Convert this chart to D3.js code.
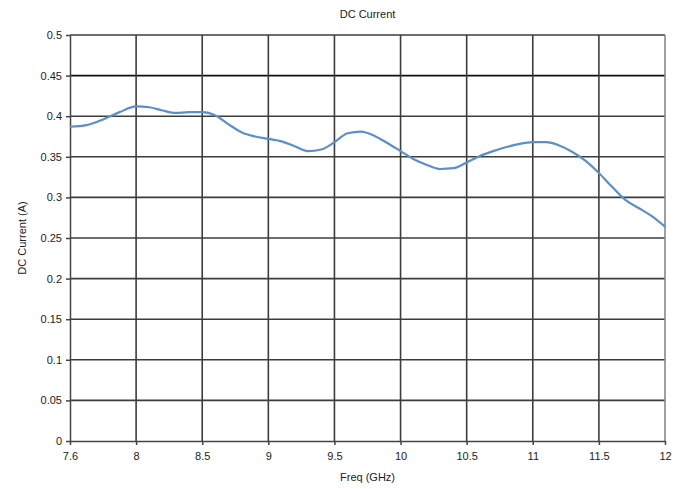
<!DOCTYPE html>
<html>
<head>
<meta charset="utf-8">
<script src="https://cdn.jsdelivr.net/npm/d3@7"></script>
<style>
  body { margin: 0; background: #fff; }
  text { font-family: "Liberation Sans", Arial, sans-serif; fill: #222; }
</style>
</head>
<body>
<div id="chart"></div>
<script>
// x tick labels (Excel style category axis, evenly spaced)
var xTicks = [7.6, 8, 8.5, 9, 9.5, 10, 10.5, 11, 11.5, 12];
var yTicks = [0, 0.05, 0.1, 0.15, 0.2, 0.25, 0.3, 0.35, 0.4, 0.45, 0.5];

var freq = [7.6, 7.7, 7.8, 7.9, 8.0, 8.1, 8.2, 8.3, 8.4, 8.5,
            8.6, 8.7, 8.8, 8.9, 9.0, 9.1, 9.2, 9.3, 9.4, 9.5,
            9.6, 9.7, 9.8, 9.9, 10.0, 10.1, 10.2, 10.3, 10.4, 10.5,
            10.6, 10.7, 10.8, 10.9, 11.0, 11.1, 11.2, 11.3, 11.4, 11.5,
            11.6, 11.7, 11.8, 11.9, 12.0];
var current = [0.387, 0.389, 0.396, 0.405, 0.412, 0.411, 0.407, 0.404, 0.405, 0.405,
               0.401, 0.390, 0.380, 0.375, 0.372, 0.369, 0.363, 0.357, 0.359, 0.368,
               0.379, 0.381, 0.376, 0.367, 0.357, 0.347, 0.340, 0.335, 0.336, 0.343,
               0.351, 0.357, 0.362, 0.366, 0.368, 0.368, 0.364, 0.356, 0.345, 0.330,
               0.313, 0.297, 0.287, 0.277, 0.264];

var width = 690, height = 489
  , margin = {top: 35, right: 25, bottom: 48, left: 70}
  , w = width - margin.left - margin.right
  , h = height - margin.top - margin.bottom
;

// piecewise scale: each labelled tick gets an equal slot
var x = d3.scaleLinear()
    .domain(xTicks)
    .range(xTicks.map(function(d, i) { return i * w / (xTicks.length - 1); }));
var y = d3.scaleLinear().domain([0, 0.5]).range([h, 0]);

var svg = d3.select("#chart").append("svg")
    .attr("width", width)
    .attr("height", height);

var g = svg.append("g")
    .attr("transform", "translate(" + margin.left + "," + margin.top + ")");

// grid
g.append("g").selectAll("line.h")
    .data(yTicks.slice(1))
  .enter().append("line")
    .attr("x1", 0).attr("x2", w)
    .attr("y1", function(d) { return y(d); })
    .attr("y2", function(d) { return y(d); })
    .attr("stroke", function(d) { return d === 0.45 ? "#111" : "#3c3c3c"; })
    .attr("stroke-width", 1.6);

g.append("g").selectAll("line.v")
    .data(xTicks.slice(1))
  .enter().append("line")
    .attr("y1", 0).attr("y2", h)
    .attr("x1", function(d) { return x(d); })
    .attr("x2", function(d) { return x(d); })
    .attr("stroke", function(d) { return d === 12 ? "#888" : "#3c3c3c"; })
    .attr("stroke-width", 1.6);

// axes
var xAxis = d3.axisBottom(x).tickValues(xTicks).tickSize(4).tickSizeOuter(0)
    .tickFormat(function(d) { return d; });
var yAxis = d3.axisLeft(y).tickValues(yTicks).tickSize(4).tickSizeOuter(0)
    .tickFormat(function(d) { return d; });

g.append("g")
    .attr("transform", "translate(0," + h + ")")
    .call(xAxis)
    .call(function(s) {
        s.selectAll("path, line").attr("stroke", "#444").attr("stroke-width", 1.5);
        s.selectAll("text").attr("font-size", 11).attr("dy", "1.1em").attr("fill", "#222");
    });

g.append("g")
    .call(yAxis)
    .call(function(s) {
        s.selectAll("path, line").attr("stroke", "#444").attr("stroke-width", 1.5);
        s.selectAll("text").attr("font-size", 11).attr("x", -8).attr("fill", "#222");
    });

// data line
var line = d3.line()
    .x(function(d, i) { return x(freq[i]); })
    .y(function(d) { return y(d); })
    .curve(d3.curveMonotoneX);

g.append("path")
    .datum(current)
    .attr("fill", "none")
    .attr("stroke", "#5b8fcb")
    .attr("stroke-width", 2.2)
    .attr("d", line);

// labels
svg.append("text")
    .attr("x", margin.left + w / 2).attr("y", 18)
    .attr("text-anchor", "middle").attr("font-size", 11)
    .text("DC Current");

svg.append("text")
    .attr("x", margin.left + w / 2).attr("y", 481)
    .attr("text-anchor", "middle").attr("font-size", 11)
    .text("Freq (GHz)");

svg.append("text")
    .attr("transform", "translate(26," + (margin.top + h / 2) + ") rotate(-90)")
    .attr("text-anchor", "middle").attr("font-size", 11)
    .text("DC Current (A)");
</script>
</body>
</html>
